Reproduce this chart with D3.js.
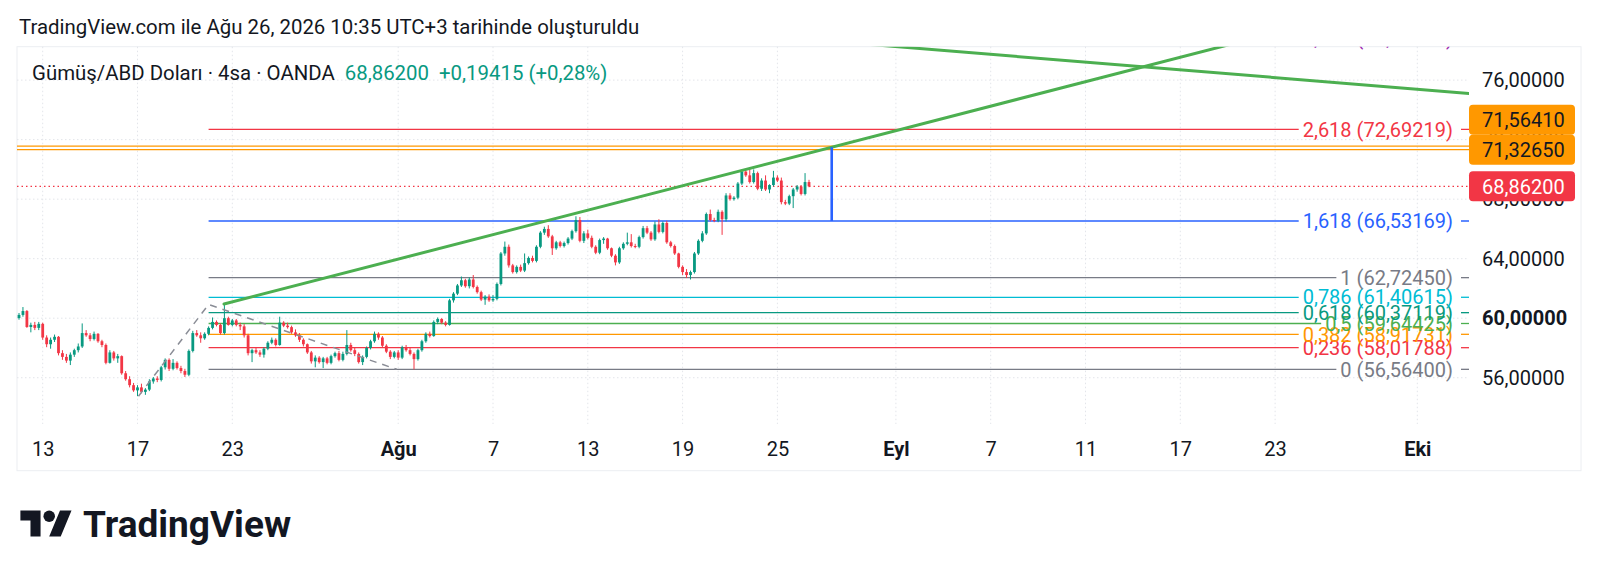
<!DOCTYPE html>
<html>
<head>
<meta charset="utf-8">
<script src="https://cdn.jsdelivr.net/npm/d3@7"></script>
<style>
  body { margin: 0; background: #fff; }
  svg text { font-family: Roboto, "Noto Sans", sans-serif; }
</style>
</head>
<body>
<svg id="chart" width="1600" height="573"></svg>
<script>
// header texts
const title = 'TradingView.com ile Ağu 26, 2026 10:35 UTC+3 tarihinde oluşturuldu';
const symbolName = 'Gümüş/ABD Doları · 4sa · OANDA';
const lastPrice = 68.862;
const changeText = '+0,19415 (+0,28%)';

// time axis
const dateTicks = ['2026-07-13', '2026-07-17', '2026-07-23', '2026-08-03', '2026-08-07', '2026-08-13',
  '2026-08-19', '2026-08-25', '2026-09-01', '2026-09-07', '2026-09-11', '2026-09-17', '2026-09-23', '2026-10-01'];
const dateTickLabels = ['13', '17', '23', 'Ağu', '7', '13', '19', '25', 'Eyl', '7', '11', '17', '23', 'Eki'];
const monthLabels = ['Ağu', 'Eyl', 'Eki'];

// price axis
const priceTicks = [56, 60, 64, 68, 72, 76];

// 4h candles, first bar opens 2026-07-10 00:00 (UTC+3), 6 bars per weekday
const firstBarDate = '2026-07-10';
const barOpen = [
  60.01, 60.22, 60.48, 59.41, 59.55, 59.35,  59.62, 58.7, 58.25, 58.55, 58.75, 57.65,
  57.4, 57.15, 57.55, 57.85, 58.1, 59.0,  58.85, 58.6, 58.95, 58.45, 58.2, 57.0,
  57.7, 57.3, 57.45, 56.3, 55.9, 55.5,  55.15, 55.35, 55.05, 55.2, 55.75, 55.95,
  55.85, 56.7, 57.2, 56.6, 57.0, 56.65,  56.45, 56.2, 57.8, 59.0, 58.85, 58.65,
  58.95, 59.35, 59.75, 59.55, 59.0, 60.0,  59.55, 59.85, 59.55, 59.45, 58.85, 57.65,
  57.85, 57.7, 57.55, 57.95, 58.35, 58.55,  58.2, 59.7, 59.5, 59.4, 59.05, 58.85,
  58.55, 58.25, 57.7, 57.1, 57.35, 57.05,  57.3, 57.0, 57.45, 57.65, 57.2, 57.6,
  58.2, 57.85, 57.6, 57.05, 57.4, 58.0,  58.45, 58.95, 58.7, 58.15, 57.75, 57.4,
  57.7, 57.35, 58.05, 57.85, 57.6, 57.25,  57.85, 58.45, 58.95, 58.8, 59.75, 59.95,
  59.7, 59.55, 61.2, 61.65, 62.2, 62.55,  62.15, 62.6, 62.1, 61.75, 61.25, 61.45,
  61.2, 61.3, 62.3, 64.35, 64.8, 63.55,  63.1, 63.45, 63.2, 63.7, 64.05, 63.85,
  64.8, 65.75, 66.0, 65.5, 64.7, 65.1,  64.85, 65.05, 65.35, 65.85, 66.6, 65.2,
  65.7, 65.4, 64.8, 64.4, 65.25, 65.35,  64.7, 64.2, 63.75, 64.7, 65.0, 65.1,
  64.85, 64.8, 65.45, 66.05, 65.75, 65.3,  66.3, 65.8, 66.4, 65.1, 64.85, 64.35,
  63.45, 63.1, 62.9, 63.1, 64.35, 65.2,  65.7, 67.0, 66.6, 66.55, 67.15, 66.65,
  68.25, 68.0, 68.1, 69.05, 69.85, 69.6,  69.15, 69.75, 68.7, 69.25, 68.65, 68.95,
  69.45, 69.25, 67.8, 67.7, 68.2, 68.65,  68.85, 68.35, 69.15
];
const barHigh = [
  60.35, 60.75, 60.55, 59.7, 59.75, 59.75,  59.7, 58.85, 58.7, 58.9, 58.8, 57.85,
  57.6, 57.7, 57.95, 58.3, 59.65, 59.2,  59.0, 59.1, 59.0, 58.55, 58.3, 57.85,
  57.8, 57.6, 57.5, 56.45, 56.1, 55.65,  55.5, 55.6, 55.3, 55.9, 56.05, 56.1,
  56.8, 57.3, 57.3, 57.25, 57.1, 56.8,  56.6, 57.9, 59.15, 59.2, 59.05, 59.05,
  59.45, 60.05, 59.85, 59.65, 61.0, 60.1,  59.95, 59.95, 59.7, 59.6, 58.95, 57.95,
  58.0, 57.85, 58.05, 58.45, 58.7, 58.65,  60.1, 59.8, 59.7, 59.5, 59.25, 59.0,
  58.65, 58.3, 57.8, 57.5, 57.45, 57.4,  57.4, 57.55, 57.75, 57.8, 57.75, 59.2,
  58.35, 58.05, 57.7, 57.5, 58.1, 58.55,  59.1, 59.05, 58.8, 58.25, 57.85, 57.8,
  57.85, 58.15, 58.2, 58.0, 57.7, 57.95,  58.55, 59.05, 59.1, 59.85, 60.05, 60.0,
  59.8, 61.3, 61.75, 62.3, 62.8, 62.65,  62.75, 62.9, 62.2, 61.85, 61.55, 61.6,
  61.55, 62.4, 64.45, 65.15, 64.95, 63.65,  63.55, 63.6, 64.35, 64.15, 64.2, 64.9,
  65.85, 66.15, 66.25, 65.6, 65.2, 65.2,  65.15, 65.45, 65.95, 66.85, 66.8, 65.85,
  65.95, 65.55, 64.9, 65.35, 65.45, 65.4,  64.75, 64.3, 64.8, 65.1, 65.75, 65.65,
  65.0, 65.55, 66.2, 66.2, 65.85, 66.5,  66.65, 66.5, 66.55, 65.2, 64.95, 64.4,
  63.55, 63.3, 63.2, 64.45, 65.3, 65.85,  67.1, 67.3, 66.75, 67.3, 67.25, 68.4,
  68.4, 68.2, 69.15, 70.0, 69.95, 70.05,  70.0, 69.85, 69.4, 69.6, 69.0, 69.9,
  69.6, 69.45, 67.95, 68.3, 68.75, 68.95,  68.95, 69.75, 69.3
];
const barLow = [
  59.9, 60.1, 59.35, 59.05, 59.2, 59.2,  58.55, 58.05, 57.95, 58.4, 57.5, 57.2,
  57.0, 56.85, 57.4, 57.7, 58.0, 58.75,  58.45, 58.5, 58.35, 58.05, 56.9, 56.95,
  57.15, 57.0, 56.2, 55.8, 55.35, 55.05,  54.76, 54.95, 54.85, 55.1, 55.6, 55.7,
  55.75, 56.55, 56.45, 56.5, 56.55, 56.3,  56.05, 56.1, 57.7, 58.75, 58.35, 58.55,
  58.85, 59.25, 59.45, 58.9, 58.9, 59.5,  59.45, 59.45, 59.2, 58.7, 57.5, 57.05,
  57.6, 57.4, 57.35, 57.85, 58.25, 58.1,  58.15, 59.4, 59.3, 58.95, 58.75, 58.4,
  58.1, 57.6, 56.95, 56.7, 56.95, 56.65,  56.9, 56.9, 57.35, 57.1, 57.1, 57.5,
  57.75, 57.45, 56.95, 56.85, 57.3, 57.9,  58.35, 58.55, 58.0, 57.65, 57.25, 57.3,
  57.2, 57.25, 57.75, 57.5, 56.56, 57.15,  57.75, 58.35, 58.7, 58.75, 59.6, 59.6,
  59.45, 59.5, 61.05, 61.55, 62.1, 62.05,  62.0, 62.0, 61.65, 61.15, 60.9, 61.1,
  61.1, 61.2, 62.2, 64.2, 63.4, 63.0,  63.0, 63.1, 63.1, 63.6, 63.75, 63.75,
  64.7, 65.6, 65.4, 64.25, 64.6, 64.75,  64.75, 64.95, 65.25, 65.75, 65.1, 65.05,
  65.3, 64.7, 64.3, 64.3, 65.0, 64.6,  64.1, 63.55, 63.65, 64.6, 64.9, 64.75,
  64.7, 64.7, 65.35, 65.65, 65.2, 65.2,  65.7, 65.7, 65.0, 64.75, 64.25, 63.35,
  62.9, 62.7, 62.6, 63.0, 64.25, 65.1,  65.6, 66.5, 66.45, 66.45, 65.6, 66.5,
  67.9, 67.9, 68.0, 68.95, 69.5, 69.05,  69.05, 68.6, 68.55, 68.55, 68.4, 68.85,
  69.15, 67.65, 67.6, 67.6, 67.4, 68.5,  68.25, 68.25, 68.8
];
const barClose = [
  60.22, 60.48, 59.41, 59.55, 59.35, 59.62,  58.7, 58.25, 58.55, 58.75, 57.65, 57.4,
  57.15, 57.55, 57.85, 58.1, 59.0, 58.85,  58.6, 58.95, 58.45, 58.2, 57.0, 57.7,
  57.3, 57.45, 56.3, 55.9, 55.5, 55.15,  55.35, 55.05, 55.2, 55.75, 55.95, 55.85,
  56.7, 57.2, 56.6, 57.0, 56.65, 56.45,  56.2, 57.8, 59.0, 58.85, 58.65, 58.95,
  59.35, 59.75, 59.55, 59.0, 60.0, 59.55,  59.85, 59.55, 59.45, 58.85, 57.65, 57.85,
  57.7, 57.55, 57.95, 58.35, 58.55, 58.2,  59.7, 59.5, 59.4, 59.05, 58.85, 58.55,
  58.25, 57.7, 57.1, 57.35, 57.05, 57.3,  57.0, 57.45, 57.65, 57.2, 57.6, 58.2,
  57.85, 57.6, 57.05, 57.4, 58.0, 58.45,  58.95, 58.7, 58.15, 57.75, 57.4, 57.7,
  57.35, 58.05, 57.85, 57.6, 57.25, 57.85,  58.45, 58.95, 58.8, 59.75, 59.95, 59.7,
  59.55, 61.2, 61.65, 62.2, 62.55, 62.15,  62.6, 62.1, 61.75, 61.25, 61.45, 61.2,
  61.3, 62.3, 64.35, 64.8, 63.55, 63.1,  63.45, 63.2, 63.7, 64.05, 63.85, 64.8,
  65.75, 66.0, 65.5, 64.7, 65.1, 64.85,  65.05, 65.35, 65.85, 66.6, 65.2, 65.7,
  65.4, 64.8, 64.4, 65.25, 65.35, 64.7,  64.2, 63.75, 64.7, 65.0, 65.1, 64.85,
  64.8, 65.45, 66.05, 65.75, 65.3, 66.3,  65.8, 66.4, 65.1, 64.85, 64.35, 63.45,
  63.1, 62.9, 63.1, 64.35, 65.2, 65.7,  67.0, 66.6, 66.55, 67.15, 66.65, 68.25,
  68.0, 68.1, 69.05, 69.85, 69.6, 69.15,  69.75, 68.7, 69.25, 68.65, 68.95, 69.45,
  69.25, 67.8, 67.7, 68.2, 68.65, 68.85,  68.35, 69.15, 68.862
];

// trend based fib extension: anchors [date, hour, price]
const fibAnchors = [['2026-07-17', 1, 54.76], ['2026-07-22', 0, 60.92], ['2026-07-31', 22.5, 56.564]];
const fibRatios = [0, 0.236, 0.382, 0.5, 0.618, 0.786, 1, 1.618, 2.618, 3.618];
const fibPrices = [56.564, 58.01788, 58.91731, 59.64425, 60.37119, 61.40615, 62.7245, 66.53169, 72.69219, 78.85268];
const fibColors = ['#787b86', '#f23645', '#ff9800', '#4caf50', '#089981', '#00bcd4', '#787b86', '#2962ff', '#f23645', '#9c27b0'];

// other drawings
const trendUp = [['2026-07-22', 15.6, 60.95], ['2026-08-27', 7, 71.49]];
const trendDown = [['2026-09-15', 18, 76.855], ['2026-10-05', 3, 75.114]];
const blueSpan = ['2026-08-27', 7, 66.53169, 71.49];
const alertLevels = [71.5641, 71.3265];

// ---------------------------------------------------------------
const svg = d3.select('#chart');
const plot = { left: 17, right: 1469, top: 46.7, bottom: 424 };
const ink = '#131722';
const up = '#089981', down = '#f23645';

const day0 = Date.UTC(2026, 6, 13);
function tradingDay(s, hour) {
  const p = s.split('-').map(Number);
  const t = Date.UTC(p[0], p[1] - 1, p[2]);
  let n = 0;
  const lo = Math.min(t, day0), hi = Math.max(t, day0);
  for (let u = lo; u < hi; u += 86400000) {
    const wd = new Date(u).getUTCDay();
    if (wd !== 0 && wd !== 6) n++;
  }
  return (t >= day0 ? n : -n) + (hour || 0) / 24;
}

const x = d3.scaleLinear().domain([0, 58]).range([42.7, 42.7 + 58 * 23.7]);
const y = d3.scaleLinear().domain([56, 76]).range([377.72, 80.12]);
const fmtPrice = v => d3.format('.5f')(v).replace('.', ',');

// frame
svg.append('rect')
    .attr('x', plot.left).attr('y', plot.top)
    .attr('width', 1581 - plot.left).attr('height', 470.7 - plot.top)
    .attr('fill', 'none').attr('stroke', '#eceef2');

svg.append('clipPath').attr('id', 'clip')
  .append('rect')
    .attr('x', plot.left).attr('y', plot.top)
    .attr('width', plot.right - plot.left).attr('height', plot.bottom - plot.top);

const tickDays = dateTicks.map(d => tradingDay(d));

// grid
const grid = svg.append('g').attr('stroke', '#e3e5ea').attr('stroke-dasharray', '1.5,2.5');
grid.selectAll('.vg').data(tickDays).enter().append('line')
    .attr('x1', d => x(d)).attr('x2', d => x(d))
    .attr('y1', plot.top).attr('y2', plot.bottom);
grid.selectAll('.hg').data(priceTicks).enter().append('line')
    .attr('x1', plot.left).attr('x2', plot.right)
    .attr('y1', d => y(d)).attr('y2', d => y(d));

const chart = svg.append('g').attr('clip-path', 'url(#clip)');

// fib levels
const fibStart = x(tradingDay(fibAnchors[1][0], fibAnchors[1][1]));
const labelRight = 1453;
const fibG = chart.append('g').style('font-size', '20px');
fibRatios.forEach((r, i) => {
  const yy = y(fibPrices[i]);
  const label = String(r).replace('.', ',') + ' (' + fmtPrice(fibPrices[i]) + ')';
  const t = fibG.append('text')
      .attr('x', labelRight).attr('y', yy).attr('dy', '0.36em')
      .attr('text-anchor', 'end').attr('fill', fibColors[i])
      .text(label);
  const w = t.node().getComputedTextLength();
  fibG.append('line')
      .attr('x1', fibStart).attr('x2', labelRight - w - 4)
      .attr('y1', yy).attr('y2', yy)
      .attr('stroke', fibColors[i]).attr('stroke-width', 1.3);
  fibG.append('line')
      .attr('x1', labelRight + 8).attr('x2', plot.right)
      .attr('y1', yy).attr('y2', yy)
      .attr('stroke', fibColors[i]).attr('stroke-width', 1.3);
});

// alert lines and last price line
chart.selectAll('.alert').data(alertLevels).enter().append('line')
    .attr('x1', plot.left).attr('x2', plot.right)
    .attr('y1', d => y(d)).attr('y2', d => y(d))
    .attr('stroke', '#ff9800').attr('stroke-width', 1.2);
chart.append('line')
    .attr('x1', plot.left).attr('x2', plot.right)
    .attr('y1', y(lastPrice)).attr('y2', y(lastPrice))
    .attr('stroke', down).attr('stroke-width', 1.2).attr('stroke-dasharray', '1.5,3');

// candles
const bars = barClose.map((c, i) => ({
  t: tradingDay(firstBarDate) + Math.floor(i / 6) + (i % 6) * 4 / 24,
  o: barOpen[i], h: barHigh[i], l: barLow[i], c: c
}));
const candle = chart.append('g').selectAll('g').data(bars).enter().append('g')
    .attr('fill', d => d.c >= d.o ? up : down)
    .attr('stroke', d => d.c >= d.o ? up : down);
candle.append('line')
    .attr('x1', d => x(d.t)).attr('x2', d => x(d.t))
    .attr('y1', d => y(d.h)).attr('y2', d => y(d.l))
    .attr('stroke-width', 1);
candle.append('rect')
    .attr('x', d => x(d.t) - 1.4).attr('width', 2.8)
    .attr('y', d => y(Math.max(d.o, d.c)))
    .attr('height', d => Math.max(1, Math.abs(y(d.o) - y(d.c))))
    .attr('stroke', 'none');

// fib anchor path
const pt = a => [x(tradingDay(a[0], a[1])), y(a[2])];
chart.append('path')
    .attr('d', d3.line()(fibAnchors.map(pt)))
    .attr('fill', 'none').attr('stroke', '#8a8d96')
    .attr('stroke-width', 1.5).attr('stroke-dasharray', '7,6');

// trend lines
function extendLine(a, b, both) {
  const p1 = pt(a), p2 = pt(b);
  const k = (p2[1] - p1[1]) / (p2[0] - p1[0]);
  const xs = both ? plot.left : p1[0];
  return [[xs, p1[1] + k * (xs - p1[0])], [plot.right, p1[1] + k * (plot.right - p1[0])]];
}
[[trendUp, false], [trendDown, true]].forEach(([seg, both]) => {
  chart.append('path')
      .attr('d', d3.line()(extendLine(seg[0], seg[1], both)))
      .attr('stroke', '#4caf50').attr('stroke-width', 3)
      .attr('fill', 'none').attr('stroke-linecap', 'round');
});

chart.append('line')
    .attr('x1', x(tradingDay(blueSpan[0], blueSpan[1]))).attr('x2', x(tradingDay(blueSpan[0], blueSpan[1])))
    .attr('y1', y(blueSpan[2])).attr('y2', y(blueSpan[3]))
    .attr('stroke', '#2962ff').attr('stroke-width', 2.6);

// price axis
const yAxis = svg.append('g')
    .attr('transform', `translate(${plot.right},0)`)
    .call(d3.axisRight(y).tickValues(priceTicks).tickSize(0).tickPadding(13).tickFormat(fmtPrice));
yAxis.select('.domain').remove();
yAxis.selectAll('text')
    .style('font-size', '20px').attr('fill', ink)
    .style('font-weight', d => d === 60 ? 'bold' : 'normal');

// price labels on the axis, pushed upward when they overlap the one below
const boxH = 30;
const tags = [
  { v: lastPrice, fill: down, color: '#fff' },
  { v: alertLevels[0], fill: '#ff9800', color: ink },
  { v: alertLevels[1], fill: '#ff9800', color: ink }
].sort((a, b) => a.v - b.v);
let prevTop = Infinity;
tags.forEach(tg => {
  let cy = y(tg.v);
  if (cy + boxH / 2 > prevTop) cy = prevTop - boxH / 2;
  tg.cy = cy;
  prevTop = cy - boxH / 2;
});
tags.forEach(tg => {
  svg.append('rect')
      .attr('x', plot.right).attr('y', tg.cy - boxH / 2)
      .attr('width', 106).attr('height', boxH).attr('rx', 4)
      .attr('fill', tg.fill);
  svg.append('text')
      .attr('x', plot.right + 13).attr('y', tg.cy).attr('dy', '0.36em')
      .style('font-size', '20px').attr('fill', tg.color)
      .text(fmtPrice(tg.v));
});

// time axis
const xAxis = svg.append('g')
    .attr('transform', 'translate(0,456)')
    .call(d3.axisBottom(x).tickValues(tickDays).tickSize(0).tickFormat((d, i) => dateTickLabels[i]));
xAxis.select('.domain').remove();
xAxis.selectAll('text')
    .attr('y', 0).attr('dy', 0)
    .style('font-size', '20px').attr('fill', ink)
    .style('font-weight', (d, i) => monthLabels.includes(dateTickLabels[i]) ? 'bold' : 'normal');

// headers
svg.append('text')
    .attr('x', 19).attr('y', 34)
    .style('font-size', '20.4px').attr('fill', ink)
    .text(title);
const sym = svg.append('text')
    .attr('x', 32).attr('y', 80)
    .style('font-size', '20.4px').attr('fill', ink);
sym.append('tspan').text(symbolName);
sym.append('tspan').attr('dx', 10).attr('fill', up).text(fmtPrice(lastPrice));
sym.append('tspan').attr('dx', 10).attr('fill', up).text(changeText);

// logo
const logo = svg.append('g').attr('fill', ink);
logo.append('g')
    .attr('transform', 'translate(20.4,504.7) scale(1.44)')
  .call(g => {
    g.append('path').attr('d', 'M14 22H7V11H0V4h14v18zM28 22h-8l7.5-18h8L28 22z');
    g.append('circle').attr('cx', 20).attr('cy', 8).attr('r', 4);
  });
logo.append('text')
    .attr('x', 83).attr('y', 537)
    .style('font-size', '37px').style('font-weight', 'bold')
    .text('TradingView');
</script>
</body>
</html>
